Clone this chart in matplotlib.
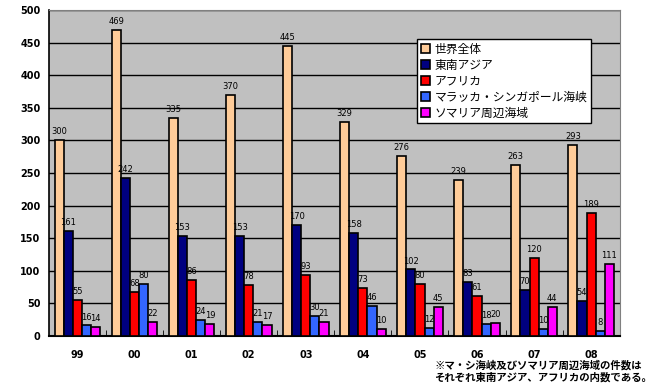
import matplotlib
matplotlib.use("Agg")
import matplotlib.pyplot as plt
import numpy as np

plt.rcParams['font.family'] = ['Noto Sans CJK JP', 'DejaVu Sans']

years = ['99', '00', '01', '02', '03', '04', '05', '06', '07', '08']
series_names = ['世界全体', '東南アジア', 'アフリカ', 'マラッカ・シンガポール海峡', 'ソマリア周辺海域']
world = [300, 469, 335, 370, 445, 329, 276, 239, 263, 293]
se_asia = [161, 242, 153, 153, 170, 158, 102, 83, 70, 54]
africa = [55, 68, 86, 78, 93, 73, 80, 61, 120, 189]
malacca = [16, 80, 24, 21, 30, 46, 12, 18, 10, 8]
somalia = [14, 22, 19, 17, 21, 10, 45, 20, 44, 111]
colors = ['#FFCC99', '#000080', '#FF0000', '#3366FF', '#FF00FF']
note = '※マ・シ海峡及びソマリア周辺海域の件数は\nそれぞれ東南アジア、アフリカの内数である。'

fig = plt.figure(figsize=(6.53, 3.87), dpi=100)
fig.patch.set_facecolor('white')
ax = fig.add_axes([0.075, 0.132, 0.874, 0.842])
ax.set_facecolor('#C0C0C0')

x = np.arange(len(years))
w = 0.16
all_series = [world, se_asia, africa, malacca, somalia]
for k, (vals, name, c) in enumerate(zip(all_series, series_names, colors)):
    pos = x - 0.4 + w * k + w / 2
    ax.bar(pos, vals, width=w, color=c, edgecolor='black', linewidth=1.2,
           label=name, zorder=3)
    for p, v in zip(pos, vals):
        ax.text(p, v + 6, str(v), ha='center', va='bottom', fontsize=6,
                family='DejaVu Sans', zorder=4)

ax.set_xlim(-0.5, len(years) - 0.5)
ax.set_ylim(0, 500)
ax.set_yticks(np.arange(0, 501, 50))
ax.yaxis.grid(True, color='black', linewidth=1.0, zorder=1)
ax.set_axisbelow(True)
ax.set_xticks(x)
ax.set_xticklabels(years, fontsize=7, fontweight='bold', family='DejaVu Sans')
ax.tick_params(axis='x', length=0, pad=10)
ax.set_xticks(x[:-1] + 0.5, minor=True)
ax.tick_params(axis='x', which='minor', direction='in', length=4, color='black')
ax.tick_params(axis='y', length=0, labelsize=7, pad=6)
for t in ax.get_yticklabels():
    t.set_fontweight('bold')
    t.set_family('DejaVu Sans')

ax.spines['top'].set_color('#808080')
ax.spines['right'].set_color('#808080')
ax.spines['left'].set_color('black')
ax.spines['left'].set_linewidth(1.2)
ax.spines['bottom'].set_color('black')
ax.spines['bottom'].set_linewidth(1.5)

leg = ax.legend(loc='upper left', bbox_to_anchor=(0.645, 0.91), fontsize=8.5,
                frameon=True, fancybox=False, handlelength=0.8, handleheight=0.8,
                handletextpad=0.4, labelspacing=0.25, borderpad=0.3,
                borderaxespad=0)
leg.get_frame().set_edgecolor('black')
leg.get_frame().set_linewidth(1.0)
leg.get_frame().set_alpha(1)

fig.text(0.665, 0.04, note, fontsize=7.5, fontweight='bold', ha='left', va='center',
         linespacing=1.2)

fig.savefig('out.png', dpi=100)
